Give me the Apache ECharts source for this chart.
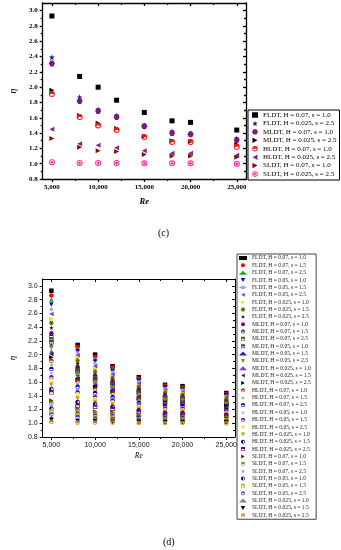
<!DOCTYPE html>
<html><head><meta charset="utf-8">
<script src="https://cdn.jsdelivr.net/npm/echarts@6/dist/echarts.min.js"></script>
<style>html,body{margin:0;padding:0;background:#fff}#c{width:341px;height:550px}</style>
</head><body><div id="c"></div>
<script>
// ---------- shared axis data ----------
const reValues = [5000, 8000, 10000, 12000, 15000, 18000, 20000, 25000];
const xTickLabels = [5000, 10000, 15000, 20000, 25000];
const xMinorTicks = [7500, 12500, 17500, 22500];
const yTickLabels = [0.8, 1.0, 1.2, 1.4, 1.6, 1.8, 2.0, 2.2, 2.4, 2.6, 2.8, 3.0];
const yMinorTicks = [0.9, 1.1, 1.3, 1.5, 1.7, 1.9, 2.1, 2.3, 2.5, 2.7, 2.9];
const xTitle = 'Re';
const yTitle = 'η';
const panelLabels = ['(c)', '(d)'];

// ---------- panel (c) ----------
const cNames = ['FLDT, H = 0.07, s = 1.0', 'FLDT, H = 0.025, s = 2.5', 'MLDT, H = 0.07, s = 1.0', 'MLDT, H = 0.025, s = 2.5',
  'HLDT, H = 0.07, s = 1.0', 'HLDT, H = 0.025, s = 2.5', 'SLDT, H = 0.07, s = 1.0', 'SLDT, H = 0.025, s = 2.5'];
const c_FLDT_H007_s10 = [2.93, 2.14, 2.00, 1.83, 1.67, 1.56, 1.54, 1.44];
const c_FLDT_H0025_s25 = [2.39, 1.87, 1.71, 1.63, 1.50, 1.42, 1.39, 1.33];
const c_MLDT_H007_s10 = [2.31, 1.82, 1.69, 1.61, 1.49, 1.40, 1.385, 1.31];
const c_MLDT_H0025_s25 = [1.96, 1.63, 1.53, 1.46, 1.36, 1.30, 1.29, 1.25];
const c_HLDT_H007_s10 = [1.91, 1.61, 1.50, 1.44, 1.35, 1.285, 1.285, 1.22];
const c_HLDT_H0025_s25 = [1.45, 1.26, 1.24, 1.21, 1.17, 1.135, 1.135, 1.11];
const c_SLDT_H007_s10 = [1.33, 1.215, 1.17, 1.16, 1.12, 1.10, 1.10, 1.085];
const c_SLDT_H0025_s25 = [1.02, 1.01, 1.01, 1.01, 1.005, 1.005, 1.005, 1.00];
const cValues = [c_FLDT_H007_s10, c_FLDT_H0025_s25, c_MLDT_H007_s10, c_MLDT_H0025_s25,
  c_HLDT_H007_s10, c_HLDT_H0025_s25, c_SLDT_H007_s10, c_SLDT_H0025_s25];

// ---------- panel (d) ----------
const dNames = [
  'FLDT, H = 0.07, s = 1.0', 'FLDT, H = 0.07, s = 1.5', 'FLDT, H = 0.07, s = 2.5',
  'FLDT, H = 0.05, s = 1.0', 'FLDT, H = 0.05, s = 1.5', 'FLDT, H = 0.05, s = 2.5',
  'FLDT, H = 0.025, s = 1.0', 'FLDT, H = 0.025, s = 1.5', 'FLDT, H = 0.025, s = 2.5',
  'MLDT, H = 0.07, s = 1.0', 'MLDT, H = 0.07, s = 1.5', 'MLDT, H = 0.07, s = 2.5',
  'MLDT, H = 0.05, s = 1.0', 'MLDT, H = 0.05, s = 1.5', 'MLDT, H = 0.05, s = 2.5',
  'MLDT, H = 0.025, s = 1.0', 'MLDT, H = 0.025, s = 1.5', 'MLDT, H = 0.025, s = 2.5',
  'HLDT, H = 0.07, s = 1.0', 'HLDT, H = 0.07, s = 1.5', 'HLDT, H = 0.07, s = 2.5',
  'HLDT, H = 0.05, s = 1.0', 'HLDT, H = 0.05, s = 1.5', 'HLDT, H = 0.05, s = 2.5',
  'HLDT, H = 0.025, s = 1.0', 'HLDT, H = 0.025, s = 1.5', 'HLDT, H = 0.025, s = 2.5',
  'SLDT, H = 0.07, s = 1.0', 'SLDT, H = 0.07, s = 1.5', 'SLDT, H = 0.07, s = 2.5',
  'SLDT, H = 0.05, s = 1.0', 'SLDT, H = 0.05, s = 1.5', 'SLDT, H = 0.05, s = 2.5',
  'SLDT, H = 0.025, s = 1.0', 'SLDT, H = 0.025, s = 1.5', 'SLDT, H = 0.025, s = 2.5'];
const d_F1 = [2.93, 2.14, 2.00, 1.83, 1.67, 1.56, 1.54, 1.44];
const d_F2 = [2.86, 2.11, 1.97, 1.81, 1.65, 1.55, 1.52, 1.43];
const d_F3 = [2.80, 2.08, 1.94, 1.79, 1.64, 1.53, 1.51, 1.42];
const d_F4 = [2.73, 2.05, 1.90, 1.76, 1.62, 1.52, 1.49, 1.41];
const d_F5 = [2.66, 2.02, 1.87, 1.74, 1.60, 1.50, 1.48, 1.39];
const d_F6 = [2.59, 1.99, 1.83, 1.71, 1.58, 1.48, 1.46, 1.38];
const d_F7 = [2.52, 1.95, 1.79, 1.68, 1.55, 1.46, 1.44, 1.36];
const d_F8 = [2.46, 1.91, 1.75, 1.66, 1.53, 1.44, 1.41, 1.35];
const d_F9 = [2.39, 1.87, 1.71, 1.63, 1.50, 1.42, 1.39, 1.33];
const d_M1 = [2.31, 1.82, 1.69, 1.61, 1.49, 1.40, 1.385, 1.31];
const d_M2 = [2.27, 1.80, 1.67, 1.59, 1.47, 1.39, 1.37, 1.30];
const d_M3 = [2.22, 1.77, 1.65, 1.57, 1.45, 1.37, 1.36, 1.30];
const d_M4 = [2.18, 1.75, 1.63, 1.55, 1.44, 1.36, 1.35, 1.29];
const d_M5 = [2.14, 1.72, 1.61, 1.53, 1.42, 1.35, 1.34, 1.28];
const d_M6 = [2.10, 1.70, 1.59, 1.51, 1.41, 1.34, 1.33, 1.28];
const d_M7 = [2.05, 1.68, 1.57, 1.50, 1.39, 1.32, 1.32, 1.27];
const d_M8 = [2.01, 1.65, 1.55, 1.48, 1.38, 1.31, 1.30, 1.26];
const d_M9 = [1.96, 1.63, 1.53, 1.46, 1.36, 1.30, 1.29, 1.25];
const d_H1 = [1.91, 1.61, 1.50, 1.44, 1.35, 1.285, 1.285, 1.22];
const d_H2 = [1.85, 1.57, 1.47, 1.41, 1.33, 1.27, 1.27, 1.21];
const d_H3 = [1.79, 1.53, 1.44, 1.38, 1.30, 1.25, 1.25, 1.20];
const d_H4 = [1.73, 1.49, 1.41, 1.36, 1.28, 1.23, 1.23, 1.18];
const d_H5 = [1.67, 1.45, 1.38, 1.33, 1.26, 1.21, 1.21, 1.17];
const d_H6 = [1.62, 1.41, 1.35, 1.30, 1.24, 1.19, 1.19, 1.15];
const d_H7 = [1.56, 1.36, 1.31, 1.27, 1.21, 1.17, 1.17, 1.14];
const d_H8 = [1.50, 1.31, 1.28, 1.24, 1.19, 1.15, 1.15, 1.12];
const d_H9 = [1.45, 1.26, 1.24, 1.21, 1.17, 1.135, 1.135, 1.11];
const d_S1 = [1.33, 1.215, 1.17, 1.16, 1.12, 1.10, 1.10, 1.085];
const d_S2 = [1.29, 1.19, 1.15, 1.14, 1.11, 1.09, 1.09, 1.075];
const d_S3 = [1.25, 1.17, 1.13, 1.12, 1.09, 1.08, 1.08, 1.065];
const d_S4 = [1.21, 1.14, 1.11, 1.10, 1.08, 1.07, 1.07, 1.055];
const d_S5 = [1.17, 1.12, 1.09, 1.08, 1.06, 1.05, 1.05, 1.045];
const d_S6 = [1.13, 1.09, 1.07, 1.06, 1.05, 1.04, 1.04, 1.035];
const d_S7 = [1.09, 1.06, 1.05, 1.04, 1.03, 1.03, 1.03, 1.025];
const d_S8 = [1.05, 1.03, 1.03, 1.02, 1.02, 1.015, 1.015, 1.01];
const d_S9 = [1.02, 1.01, 1.01, 1.01, 1.005, 1.005, 1.005, 1.00];
const dValues = [d_F1, d_F2, d_F3, d_F4, d_F5, d_F6, d_F7, d_F8, d_F9,
  d_M1, d_M2, d_M3, d_M4, d_M5, d_M6, d_M7, d_M8, d_M9,
  d_H1, d_H2, d_H3, d_H4, d_H5, d_H6, d_H7, d_H8, d_H9,
  d_S1, d_S2, d_S3, d_S4, d_S5, d_S6, d_S7, d_S8, d_S9];

// ---------- symbols & styles ----------
const TRI_DOWN = 'path://M0,0 L10,0 L5,9 Z';
const TRI_LEFT = 'path://M10,0 L10,10 L1,5 Z';
const TRI_RIGHT = 'path://M0,0 L9,5 L0,10 Z';
const STAR = 'path://M5,0 L6.2,3.6 L10,3.6 L6.9,5.9 L8.1,9.5 L5,7.3 L1.9,9.5 L3.1,5.9 L0,3.6 L3.8,3.6 Z';
const HEX = 'path://M2.5,0 L7.5,0 L10,4.33 L7.5,8.66 L2.5,8.66 L0,4.33 Z';
const HALF_TOP = 'path://M0,5 A5,5 0 0 1 10,5 A5,5 0 0 1 0,5 Z M1.6,5 A3.4,3.4 0 0 0 8.4,5 L1.6,5 Z';
const HALF_LEFT = 'path://M0,5 A5,5 0 0 1 10,5 A5,5 0 0 1 0,5 Z M5,8.4 A3.4,3.4 0 0 0 5,1.6 Z';
const HALF_RECT = 'path://M0,0 L10,0 L10,10 L0,10 Z M1.6,5 L1.6,8.4 L8.4,8.4 L8.4,5 Z';
const RING_DIAMOND = 'path://M0,5 A5,5 0 0 1 10,5 A5,5 0 0 1 0,5 Z M1.5,5 A3.5,3.5 0 0 0 8.5,5 A3.5,3.5 0 0 0 1.5,5 Z M5,2.4 L7.6,5 L5,7.8 L2.4,5 Z';

const cStyle = [
  ['rect', '#000000', 5], [STAR, '#1c1c7a', 6], [HEX, '#7a1a80', 6], [TRI_RIGHT, '#000000', 5],
  [HALF_TOP, '#ff1010', 6], [TRI_LEFT, '#7a2a90', 5], [TRI_RIGHT, '#8a0a0a', 5], [RING_DIAMOND, '#ff1a8a', 6]];
const dStyle = [
  ['rect', '#000000'], ['circle', '#ff0000'], ['triangle', '#10b010'],
  [TRI_DOWN, '#0000ff'], ['diamond', '#a0a0ff'], [TRI_LEFT, '#8040d0'],
  [TRI_RIGHT, '#e8e800'], [HEX, '#707000'], [STAR, '#000080'],
  ['circle', '#800080'], [HALF_TOP, '#303030'], [HALF_RECT, '#505020'],
  [HALF_RECT, '#404070'], ['triangle', '#2020c0'], [TRI_DOWN, '#a09000'],
  ['triangle', '#8040c0'], [TRI_LEFT, '#202080'], [TRI_RIGHT, '#000000'],
  [HALF_TOP, '#a03000'], [STAR, '#80c080'], [HALF_TOP, '#0000c0'],
  [STAR, '#80c0ff'], [HALF_TOP, '#8000c0'], ['circle', '#f0f070'],
  [TRI_DOWN, '#c0a000'], [HALF_LEFT, '#000080'], [HALF_RECT, '#800080'],
  [TRI_RIGHT, '#404000'], [HALF_TOP, '#808000'], [STAR, '#8080ff'],
  [HALF_LEFT, '#000080'], [HALF_RECT, '#c0c000'], [HALF_TOP, '#6040c0'],
  ['triangle', '#8080a0'], [TRI_DOWN, '#000000'], [HALF_TOP, '#c08000']];

// ---------- axes ----------
const panels = [
  {grid: {left: 27, top: 3, width: 219, height: 176}, lw: 1.3,
   font: {fontFamily: 'Liberation Serif', fontWeight: 'bold', fontSize: 7, color: '#000'},
   xm: 5, ym: 5, xng: 18, yng: 21,
   xName: {fontFamily: 'Liberation Serif', fontWeight: 'bold', fontStyle: 'italic', fontSize: 8.5, color: '#000'},
   yName: {fontFamily: 'Liberation Serif', fontStyle: 'italic', fontSize: 10, color: '#000'}},
  {grid: {left: 41, top: 279, width: 194, height: 158}, lw: 1,
   font: {fontFamily: 'Liberation Sans', fontSize: 7, color: '#111'},
   xm: 5, ym: 5, xng: 15, yng: 19,
   xName: {fontFamily: 'Liberation Serif', fontStyle: 'italic', fontSize: 7.5, color: '#000'},
   yName: {fontFamily: 'Liberation Serif', fontStyle: 'italic', fontSize: 9, color: '#000'}}
];

const xAxes = [], yAxes = [];
panels.forEach((p, g) => {
  const ls = {color: '#000', width: p.lw};
  const bx = {gridIndex: g, type: 'value', min: 4000, max: 26000, splitLine: {show: false}};
  xAxes.push(
    Object.assign({}, bx, {position: 'bottom', axisLine: {onZero: false, lineStyle: ls},
      axisTick: {customValues: xTickLabels, length: 3, inside: false, lineStyle: ls},
      axisLabel: Object.assign({customValues: xTickLabels, margin: p.xm}, p.font),
      name: xTitle, nameLocation: 'middle', nameGap: p.xng, nameTextStyle: p.xName}),
    Object.assign({}, bx, {position: 'bottom', axisLine: {show: false, onZero: false},
      axisTick: {customValues: xMinorTicks, length: 2, inside: false, lineStyle: ls}, axisLabel: {show: false}}),
    Object.assign({}, bx, {position: 'top', axisLine: {onZero: false, lineStyle: ls},
      axisTick: {customValues: xTickLabels, length: 3, inside: true, lineStyle: ls}, axisLabel: {show: false}}),
    Object.assign({}, bx, {position: 'top', axisLine: {show: false, onZero: false},
      axisTick: {customValues: xMinorTicks, length: 2, inside: true, lineStyle: ls}, axisLabel: {show: false}})
  );
  const by = {gridIndex: g, type: 'value', min: 0.8, max: 3.1, splitLine: {show: false}};
  yAxes.push(
    Object.assign({}, by, {position: 'left', axisLine: {onZero: false, lineStyle: ls},
      axisTick: {customValues: yTickLabels, length: 3, inside: false, lineStyle: ls},
      axisLabel: Object.assign({customValues: yTickLabels, margin: p.ym, formatter: v => v.toFixed(1)}, p.font),
      name: yTitle, nameLocation: 'middle', nameRotate: 90, nameGap: p.yng, nameTextStyle: p.yName}),
    Object.assign({}, by, {position: 'left', axisLine: {show: false, onZero: false},
      axisTick: {customValues: yMinorTicks, length: 2, inside: false, lineStyle: ls}, axisLabel: {show: false}}),
    Object.assign({}, by, {position: 'right', axisLine: {onZero: false, lineStyle: ls},
      axisTick: {customValues: yTickLabels, length: 3, inside: true, lineStyle: ls}, axisLabel: {show: false}}),
    Object.assign({}, by, {position: 'right', axisLine: {show: false, onZero: false},
      axisTick: {customValues: yMinorTicks, length: 2, inside: true, lineStyle: ls}, axisLabel: {show: false}})
  );
});

// ---------- series ----------
const series = [];
cValues.forEach((vals, i) => {
  series.push({type: 'scatter', name: cNames[i], xAxisIndex: 0, yAxisIndex: 0,
    symbol: cStyle[i][0], symbolSize: cStyle[i][2], itemStyle: {color: cStyle[i][1], opacity: 1},
    data: reValues.map((x, j) => [x, vals[j]])});
});
// (d) names get a trailing space so legend (d) is independent of legend (c)
const dSeriesNames = dNames.map(n => n + ' ');
dValues.forEach((vals, i) => {
  series.push({type: 'scatter', name: dSeriesNames[i], xAxisIndex: 4, yAxisIndex: 4,
    symbol: dStyle[i][0], symbolSize: 4.5, itemStyle: {color: dStyle[i][1], opacity: 1},
    data: reValues.map((x, j) => [x, vals[j]])});
});

const chart = echarts.init(document.getElementById('c'), null, {renderer: 'canvas'});
chart.setOption({
  animation: false,
  backgroundColor: '#fff',
  grid: panels.map(p => Object.assign({containLabel: false}, p.grid)),
  xAxis: xAxes,
  yAxis: yAxes,
  legend: [
    {orient: 'vertical', left: 248, top: 110, data: cNames, selectedMode: false,
     itemWidth: 6, itemHeight: 5.5, itemGap: 1.43, padding: [1.5, 3, 2.5, 4],
     borderColor: '#000', borderWidth: 1, backgroundColor: '#fff',
     textStyle: {fontFamily: 'Liberation Serif', fontSize: 7, color: '#000', lineHeight: 7}},
    {orient: 'vertical', left: 237, top: 254, data: dSeriesNames, selectedMode: false,
     itemWidth: 8, itemHeight: 4, itemGap: 1.35, padding: [1, 4, 1, 2],
     borderColor: '#444', borderWidth: 1, backgroundColor: '#fff',
     textStyle: {fontFamily: 'Liberation Serif', fontSize: 5.6, color: '#222', lineHeight: 6}}
  ],
  graphic: [
    {type: 'text', left: 158, top: 228, style: {text: panelLabels[0], font: '10px "Liberation Serif"', fill: '#000'}},
    {type: 'text', left: 163, top: 537, style: {text: panelLabels[1], font: '10px "Liberation Serif"', fill: '#000'}}
  ],
  series: series
});
</script></body></html>
